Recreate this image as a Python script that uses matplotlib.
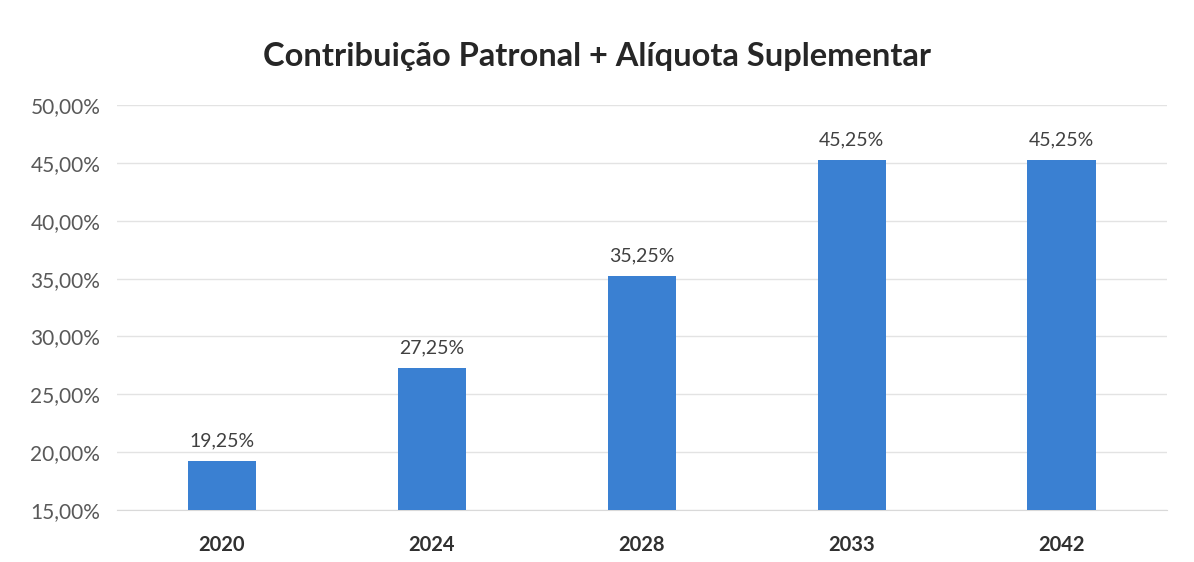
import matplotlib.pyplot as plt
from matplotlib.ticker import FuncFormatter, MultipleLocator

plt.rcParams['font.family'] = ['Lato', 'DejaVu Sans']

anos = ['2020', '2024', '2028', '2033', '2042']
aliquotas = [19.25, 27.25, 35.25, 45.25, 45.25]

fig = plt.figure(figsize=(11.94, 5.62), dpi=100)
ax = fig.add_axes([0.098, 0.0925, 0.879, 0.7205])

x = range(len(anos))
barras = ax.bar(x, aliquotas, width=0.325, color='#3a80d2', zorder=3)

for xi, v in zip(x, aliquotas):
    ax.text(xi, v + 1.0, f'{v:.2f}%'.replace('.', ','), ha='center', va='bottom',
            fontsize=14, color='#404040')

ax.set_xlim(-0.5, len(anos) - 0.5)
ax.set_ylim(15, 50)
ax.yaxis.set_major_locator(MultipleLocator(5))
ax.yaxis.set_major_formatter(FuncFormatter(lambda v, p: f'{v:.2f}%'.replace('.', ',')))
ax.grid(axis='y', color='#e3e3e3', linewidth=1, zorder=0)

ax.set_xticks(list(x))
ax.set_xticklabels(anos, fontweight='bold', fontsize=14.5, color='#303030')
ax.tick_params(axis='y', labelsize=15, labelcolor='#595959', length=0, pad=12)
ax.tick_params(axis='x', length=0, pad=18)
for s in ax.spines.values():
    s.set_visible(False)
ax.spines['bottom'].set_visible(True)
ax.spines['bottom'].set_color('#d9d9d9')

fig.suptitle('Contribuição Patronal + Alíquota Suplementar', fontsize=23.5,
             fontweight='bold', color='#262626', y=0.925)

fig.savefig('out.png', dpi=100)
